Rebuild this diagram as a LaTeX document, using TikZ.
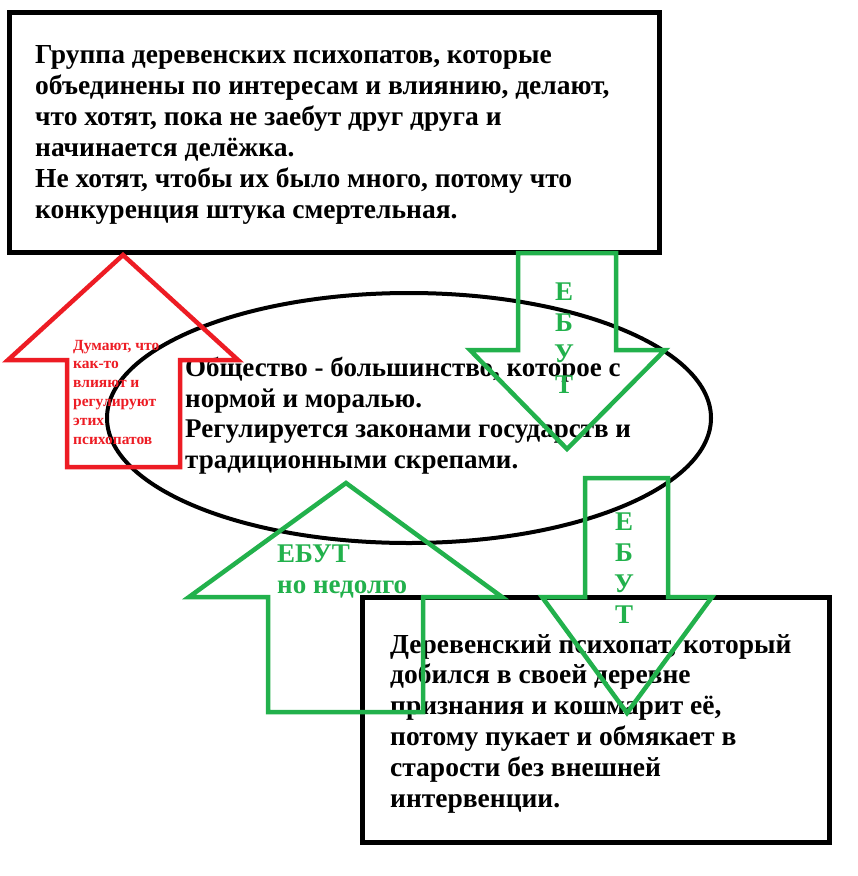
\documentclass[tikz,border=0pt]{standalone}
\usepackage{fontspec}
\setmainfont{Liberation Serif}
\definecolor{paintred}{RGB}{237,28,36}
\definecolor{paintgreen}{RGB}{34,177,76}
\tikzset{
  framebox/.style = {draw = black, line width = 5pt, inner sep = 0pt},
  bigtext/.style = {anchor = base west, align = left, inner sep = 0pt,
    font = \bfseries\fontsize{27.5}{31}\selectfont},
  redtext/.style = {anchor = base west, align = left, inner sep = 0pt, text = paintred,
    font = \bfseries\fontsize{15.5}{18.8}\selectfont},
  greentext/.style = {inner sep = 0pt, text = paintgreen,
    font = \bfseries\fontsize{27}{31}\selectfont},
  blockarrow/.style = {line width = 4.5pt, miter limit = 20}
}

\begin{document}
\begin{tikzpicture}[x = 1pt, y = -1pt]
\fill[white] (0,0) rectangle (858,876);
\useasboundingbox (0,0) rectangle (858,876);
% boxes and the ellipse
\node[framebox, minimum width = 650pt, minimum height = 240pt] (groupbox) at (334,132) {};
\node[framebox, minimum width = 467pt, minimum height = 245pt] (loner) at (595.5,719.5) {};
\draw[line width = 4pt] (409,418) ellipse [x radius = 302, y radius = 125];
% texts (placed by the baseline of their last line)
\node[bigtext] (grouptext) at (35,218) {Группа деревенских психопатов, которые\\
объединены по интересам и влиянию, делают,\\
что хотят, пока не заебут друг друга и\\
начинается делёжка.\\
Не хотят, чтобы их было много, потому что\\
конкуренция штука смертельная.};
\node[bigtext, font = \bfseries\fontsize{27}{30.5}\selectfont] (society) at (185,468) {Общество - большинство, которое с\\
нормой и моралью.\\
Регулируется законами государств и\\
традиционными скрепами.};
\node[bigtext, font = \bfseries\fontsize{27.5}{30.8}\selectfont] (lonertext) at (390,807) {Деревенский психопат, который\\
добился в своей деревне\\
признания и кошмарит её,\\
потому пукает и обмякает в\\
старости без внешней\\
интервенции.};
% red arrow
\draw[blockarrow, paintred] (123,255) -- (238,360) -- (180,360) -- (180,467)
  -- (67,467) -- (67,360) -- (8,360) -- cycle;
\node[redtext] (thinktext) at (73,444) {Думают, что\\как-то\\влияют и\\регулируют\\этих\\психопатов};
% green arrows
\draw[blockarrow, paintgreen] (518,253) -- (616,253) -- (616,350) -- (665,350)
  -- (567,449) -- (470,350) -- (518,350) -- cycle;
\node[greentext, anchor = base, align = center] (downone) at (564,393) {Е\\Б\\У\\Т};
\draw[blockarrow, paintgreen] (346,483) -- (502,597) -- (423,597) -- (423,712)
  -- (268,712) -- (268,597) -- (189,597) -- cycle;
\node[greentext, anchor = base west, align = left] (upone) at (277,593) {ЕБУТ\\но недолго};
\draw[blockarrow, paintgreen] (585,478) -- (668,478) -- (668,597) -- (712,597)
  -- (627,713) -- (542,597) -- (585,597) -- cycle;
\node[greentext, anchor = base, align = center] (downtwo) at (624,623) {Е\\Б\\У\\Т};
\end{tikzpicture}
\end{document}
